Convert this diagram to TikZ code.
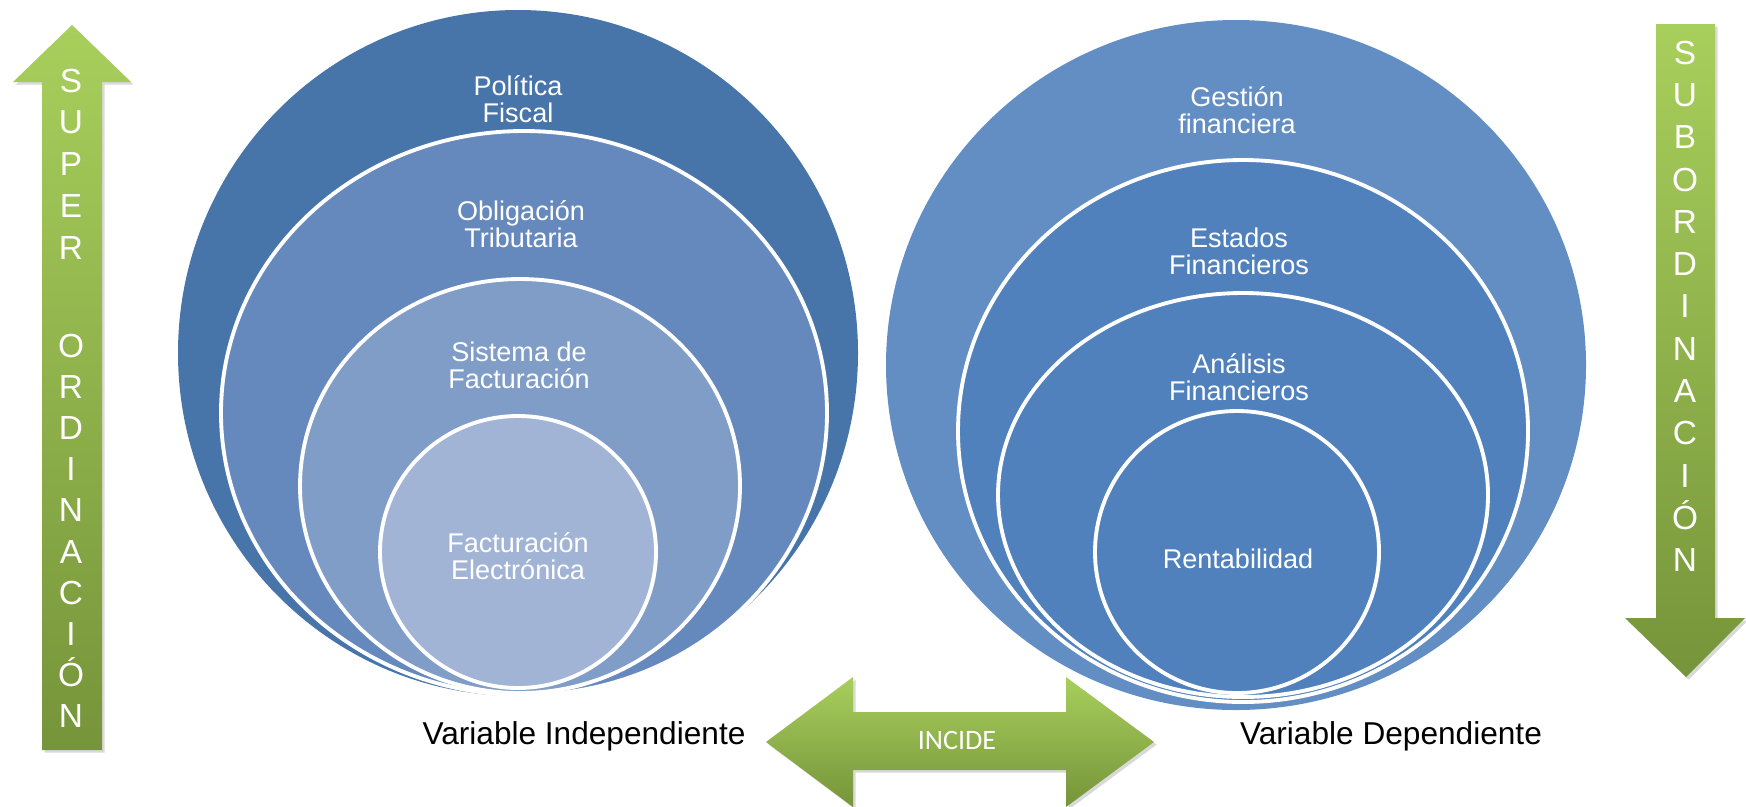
\documentclass[tikz,border=0pt]{standalone}
\usepackage{fontspec}
\setmainfont{Liberation Sans}
\newfontfamily\incidefont{Carlito}
\usetikzlibrary{shadows}
\definecolor{polfill}{RGB}{71,117,170}
\definecolor{oblfill}{RGB}{102,137,189}
\definecolor{sisfill}{RGB}{128,157,200}
\definecolor{facfill}{RGB}{162,180,214}
\definecolor{gesfill}{RGB}{98,142,196}
\definecolor{finfill}{RGB}{80,129,189}
\definecolor{greenlight}{RGB}{168,207,92}
\definecolor{greendark}{RGB}{118,148,58}
\tikzstyle{ring} = [draw=white, 
line width=2.2pt]
\tikzstyle{ringtext} = [text=white, 
align=center, 
inner sep=0pt,
font=\fontsize{15.4pt}{15.4pt}\selectfont]
\tikzstyle{bigarrow} = [top color=greenlight, 
bottom color=greendark, 
drop shadow={opacity=0.3, shadow xshift=1.5pt, shadow yshift=-1.5pt}]
\tikzstyle{arrowletter} = [text=white, 
anchor=base, 
inner sep=0pt,
font=\fontsize{19pt}{19pt}\selectfont]
\tikzstyle{varlabel} = [anchor=base, 
inner sep=0pt,
font=\fontsize{18pt}{18pt}\selectfont]

\begin{document}
\begin{tikzpicture}[x=0.02cm, y=-0.02cm]
	\useasboundingbox (0,0) rectangle (1746,806);
	% variable independiente
	\fill [polfill] (518,353) ellipse [x radius=340, y radius=343];
	\filldraw [ring, fill=oblfill] (524,413) ellipse [x radius=303, y radius=282];
	\filldraw [ring, fill=sisfill] (520,486) ellipse [x radius=220, y radius=207];
	\filldraw [ring, fill=facfill] (518,552) ellipse [x radius=138, y radius=136];
	\node (pol) [ringtext] at (518,99) {Política\\Fiscal};
	\node (obl) [ringtext] at (521,224) {Obligación\\Tributaria};
	\node (sis) [ringtext] at (519,365) {Sistema de\\Facturación};
	\node (fac) [ringtext] at (518,556) {Facturación\\Electrónica};
	% variable dependiente
	\fill [gesfill] (1236,365) ellipse [x radius=350, y radius=345];
	\filldraw [ring, fill=finfill] (1243,431) ellipse [x radius=285, y radius=271];
	\filldraw [ring, fill=finfill] (1243,495) ellipse [x radius=245, y radius=202];
	\filldraw [ring, fill=finfill] (1237,552) ellipse [x radius=142, y radius=141];
	\node (ges) [ringtext] at (1237,110) {Gestión\\financiera};
	\node (est) [ringtext] at (1239,251) {Estados\\Financieros};
	\node (ana) [ringtext] at (1239,377) {Análisis\\Financieros};
	\node (ren) [ringtext] at (1238,559) {Rentabilidad};
	% flechas
	\path [bigarrow] (42,750) -- (42,82) -- (13,82) -- (72,25) -- (131,82) -- (102,82) -- (102,750) -- cycle;
	\path [bigarrow] (1656,24) -- (1656,618) -- (1625,618) -- (1686,677) -- (1745,618) -- (1715,618) -- (1715,24) -- cycle;
	\path [bigarrow] (766,742) -- (853,677) -- (853,712) -- (1066,712) -- (1066,677) -- (1154,742)
		-- (1066,807) -- (1066,770) -- (853,770) -- (853,807) -- cycle;
	\foreach \ch [count=\i] in {S,U,P,E,R}
		\node (sup\i) [arrowletter] at (71,{92+41.75*(\i-1)}) {\ch};
	\foreach \ch [count=\i] in {O,R,D,I,N,A,C,I,Ó,N}
		\node (ord\i) [arrowletter] at (71,{357+41.2*(\i-1)}) {\ch};
	\foreach \ch [count=\i] in {S,U,B,O,R,D,I,N,A,C,I,Ó,N}
		\node (sub\i) [arrowletter] at (1685,{64+42.33*(\i-1)}) {\ch};
	\node (inc) [anchor=base, inner sep=0pt, text=white, font=\incidefont\fontsize{16pt}{16pt}\selectfont] at (957,749) {INCIDE};
	\node (vind) [varlabel] at (584,744) {Variable Independiente};
	\node (vdep) [varlabel] at (1391,744) {Variable Dependiente};
\end{tikzpicture}
\end{document}
